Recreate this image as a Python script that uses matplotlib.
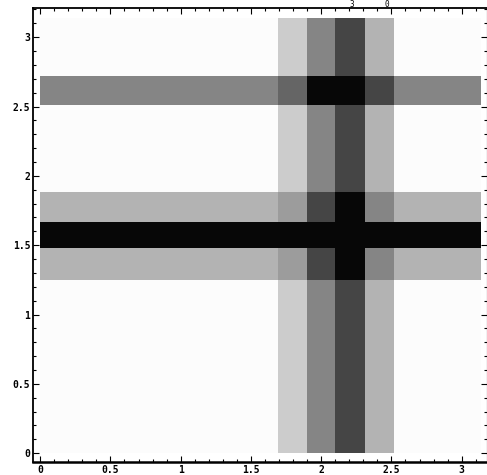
import matplotlib
matplotlib.use("Agg")
import matplotlib.pyplot as plt
import numpy as np
from matplotlib.ticker import MultipleLocator

# band data: edges and strength levels
domain = [0.0, 3.14]
vert_edges = [1.69, 1.90, 2.10, 2.31, 2.52]
vert_levels = [0.5, 2.0, 3.0, 1.0]
horiz_edges = [1.25, 1.48, 1.665, 1.88, 2.51, 2.72]
horiz_levels = [1.0, 4.0, 1.0, 0.0, 2.0]

# level -> gray shade
scale_levels = [0, 0.5, 1, 2, 3, 4]
scale_grays = [0.985, 0.80, 0.70, 0.52, 0.27, 0.03]

xticks = [0, 0.5, 1, 1.5, 2, 2.5, 3]
yticks = [0, 0.5, 1, 1.5, 2, 2.5, 3]


def band_level(v, edges, levels):
    for lo, hi, lv in zip(edges[:-1], edges[1:], levels):
        if lo <= v < hi:
            return lv
    return 0.0


xe = np.array([domain[0]] + vert_edges + [domain[1]])
ye = np.array([domain[0]] + horiz_edges + [domain[1]])
xc = (xe[:-1] + xe[1:]) / 2
yc = (ye[:-1] + ye[1:]) / 2
lev = np.array([[band_level(x, vert_edges, vert_levels) + band_level(y, horiz_edges, horiz_levels)
                 for x in xc] for y in yc])
gray = np.interp(lev, scale_levels, scale_grays)

fig = plt.figure(figsize=(4.87, 4.75), dpi=100)
ax = fig.add_axes([0.068, 0.027, 0.932, 0.956])
ax.pcolormesh(xe, ye, gray, cmap='gray', vmin=0, vmax=1, shading='flat')

ax.set_xlim(-0.05, 3.18)
ax.set_ylim(-0.065, 3.21)

ax.set_xticks(xticks)
ax.set_yticks(yticks)
ax.set_xticklabels([f"{t:g}" for t in xticks])
ax.set_yticklabels([f"{t:g}" for t in yticks])
ax.xaxis.set_minor_locator(MultipleLocator(0.1))
ax.yaxis.set_minor_locator(MultipleLocator(0.1))
ax.tick_params(which='both', direction='in', top=True, right=True, width=0.8,
               labelsize=7, pad=2)
ax.tick_params(which='major', length=4)
ax.tick_params(which='minor', length=2)
for lab in ax.get_xticklabels() + ax.get_yticklabels():
    lab.set_family('DejaVu Sans Mono')
    lab.set_fontweight('bold')

for s in ['left', 'bottom', 'top']:
    ax.spines[s].set_linewidth(1.3)
ax.spines['bottom'].set_linewidth(1.8)

# stray marks above the frame
ax.text(2.22, 3.2, "3", fontsize=5.5, family='DejaVu Sans Mono', ha='center', va='bottom')
ax.text(2.47, 3.2, "0", fontsize=5.5, family='DejaVu Sans Mono', ha='center', va='bottom')

fig.savefig("out.png", dpi=100)
